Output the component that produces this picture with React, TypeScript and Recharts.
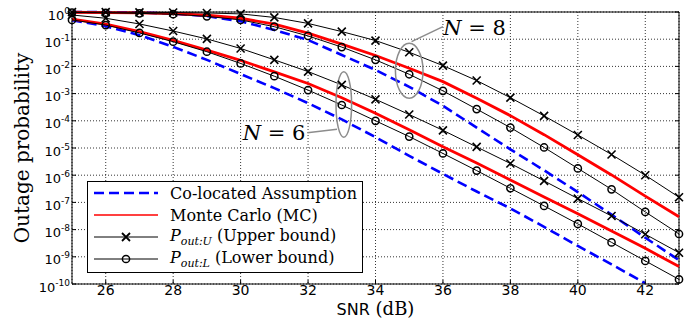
import {
    CartesianGrid,
    Label,
    Legend,
    Line,
    LineChart,
    ReferenceDot,
    ReferenceLine,
    XAxis,
    YAxis,
} from 'recharts';

// SNR in dB
const snr = [25, 26, 27, 28, 29, 30, 31, 32, 33, 34, 35, 36, 37, 38, 39, 40, 41, 42, 43];

// all series are log10(outage probability)
const n8Co = [0, -0.005, -0.02, -0.06, -0.15, -0.34, -0.66, -1.03, -1.58, -2.13, -2.75, -3.45, -4.25, -5.05, -5.82, -6.62, -7.45, -8.3, -9.12];
const n8MC = [-0.01, -0.02, -0.035, -0.06, -0.12, -0.23, -0.45, -0.78, -1.18, -1.6, -2.07, -2.56, -3.17, -3.81, -4.51, -5.25, -5.99, -6.77, -7.53];
const n8Upper = [-0.003, -0.006, -0.012, -0.02, -0.035, -0.07, -0.2, -0.42, -0.72, -1.05, -1.48, -1.97, -2.52, -3.15, -3.82, -4.52, -5.24, -6.0, -6.81];
const n8Lower = [-0.02, -0.03, -0.05, -0.08, -0.16, -0.29, -0.54, -0.88, -1.29, -1.76, -2.29, -2.9, -3.57, -4.25, -4.98, -5.75, -6.52, -7.35, -8.16];

const n6Co = [-0.3, -0.52, -0.85, -1.28, -1.76, -2.28, -2.8, -3.35, -3.95, -4.6, -5.29, -5.95, -6.6, -7.22, -7.9, -8.6, -9.28, -9.97, null];
const n6MC = [-0.26, -0.45, -0.72, -1.04, -1.4, -1.78, -2.2, -2.63, -3.15, -3.72, -4.33, -4.95, -5.55, -6.18, -6.8, -7.42, -8.05, -8.69, -9.36];
const n6Upper = [-0.11, -0.23, -0.44, -0.7, -0.99, -1.34, -1.76, -2.19, -2.68, -3.21, -3.77, -4.35, -4.96, -5.57, -6.21, -6.86, -7.5, -8.17, -8.85];
const n6Lower = [-0.29, -0.48, -0.77, -1.09, -1.46, -1.89, -2.36, -2.87, -3.42, -4.0, -4.58, -5.2, -5.83, -6.48, -7.13, -7.79, -8.47, -9.15, -9.83];

const xTicks = [26, 28, 30, 32, 34, 36, 38, 40, 42];
const yTicks = [-10, -9, -8, -7, -6, -5, -4, -3, -2, -1, 0];

const data = snr.map((s, i) => ({
    snr: s,
    n8Co: n8Co[i],
    n8MC: n8MC[i],
    n8Upper: n8Upper[i],
    n8Lower: n8Lower[i],
    n6Co: n6Co[i],
    n6MC: n6MC[i],
    n6Upper: n6Upper[i],
    n6Lower: n6Lower[i],
}));

const BLUE = '#0000ff';
const RED = '#ff0000';
const GREY = '#8c8c8c';
const SERIF = '"DejaVu Serif", serif';
const SANS = '"DejaVu Sans", sans-serif';

function CrossDot(props: any) {
    const { cx, cy, key } = props;
    if (cx == null || cy == null) return <g key={key} />;
    const s = 4;
    return (
        <path
            key={key}
            d={`M${cx - s},${cy - s}L${cx + s},${cy + s}M${cx - s},${cy + s}L${cx + s},${cy - s}`}
            stroke="#000"
            strokeWidth={1.6}
        />
    );
}

function CircleDot(props: any) {
    const { cx, cy, key } = props;
    if (cx == null || cy == null) return <g key={key} />;
    return <circle key={key} cx={cx} cy={cy} r={3.6} fill="none" stroke="#000" strokeWidth={1.5} />;
}

function YTick({ x, y, payload }: any) {
    return (
        <g>
            <line x1={x + 2} y1={y} x2={x + 6} y2={y} stroke="#000" strokeWidth={1} />
            <text x={x} y={y + 7.5} textAnchor="end" fontFamily={SANS} fontSize={13} fill="#000">
                10
                <tspan dy={-6} fontSize={9}>
                    {payload.value}
                </tspan>
            </text>
        </g>
    );
}

function XTick({ x, y, payload }: any) {
    return (
        <g>
            <line x1={x} y1={y} x2={x} y2={y - 4} stroke="#000" strokeWidth={1} />
            <text x={x} y={y + 11} textAnchor="middle" fontFamily={SANS} fontSize={14} fill="#000">
                {payload.value}
            </text>
        </g>
    );
}

function YTitle({ viewBox }: any) {
    const cx = viewBox.x + 22;
    const cy = viewBox.y + viewBox.height / 2;
    return (
        <text
            transform={`translate(${cx},${cy}) rotate(-90)`}
            textAnchor="middle"
            dominantBaseline="central"
            fontFamily={SERIF}
            fontSize={20}
            fill="#000"
        >
            Outage probability
        </text>
    );
}

function XTitle({ viewBox }: any) {
    const cx = viewBox.x + viewBox.width / 2;
    return (
        <text x={cx} y={viewBox.y + 31} textAnchor="middle" fill="#000">
            <tspan fontFamily={SANS} fontSize={16}>SNR</tspan>
            <tspan fontFamily={SERIF} fontSize={18}> (dB)</tspan>
        </text>
    );
}

function groupLabel(n: number) {
    return (p: any) => (
        <text x={p.cx} y={p.cy} fontFamily={SERIF} fontSize={21} fill="#000">
            <tspan fontStyle="italic">N</tspan> = {n}
        </text>
    );
}

function ellipse(rx: number, ry: number) {
    return (p: any) => (
        <ellipse cx={p.cx} cy={p.cy} rx={rx} ry={ry} fill="none" stroke={GREY} strokeWidth={1.5} />
    );
}

function rightTick(p: any) {
    return <line x1={p.cx} y1={p.cy} x2={p.cx - 4} y2={p.cy} stroke="#000" strokeWidth={1} />;
}

function LegendBox() {
    const row = { display: 'flex', alignItems: 'center', height: 22 } as const;
    const text = { fontFamily: SERIF, fontSize: 16, color: '#000', whiteSpace: 'nowrap' } as const;
    const sample = (kind: string) => (
        <svg width={64} height={12} style={{ marginRight: 12, flex: 'none' }}>
            {kind === 'co' && <line x1={0} y1={6} x2={64} y2={6} stroke={BLUE} strokeWidth={2.5} strokeDasharray="10 5" />}
            {kind === 'mc' && <line x1={0} y1={6} x2={64} y2={6} stroke={RED} strokeWidth={1.5} />}
            {kind !== 'co' && kind !== 'mc' && <line x1={0} y1={6} x2={64} y2={6} stroke="#000" strokeWidth={1} />}
            {kind === 'up' && <path d="M28,2L36,10M28,10L36,2" stroke="#000" strokeWidth={1.8} />}
            {kind === 'lo' && <circle cx={32} cy={6} r={3.6} fill="none" stroke="#000" strokeWidth={1.5} />}
        </svg>
    );
    return (
        <div
            style={{
                width: 276,
                height: 92,
                boxSizing: 'border-box',
                border: '1.5px solid #000',
                background: '#fff',
                padding: '0 0 0 6px',
            }}
        >
            <div style={row}>
                {sample('co')}
                <span style={text}>Co-located Assumption</span>
            </div>
            <div style={row}>
                {sample('mc')}
                <span style={text}>Monte Carlo (MC)</span>
            </div>
            <div style={row}>
                {sample('up')}
                <span style={text}>
                    <i>P</i>
                    <sub style={{ fontSize: 11 }}>
                        <i>out:U</i>
                    </sub>{' '}
                    (Upper bound)
                </span>
            </div>
            <div style={row}>
                {sample('lo')}
                <span style={text}>
                    <i>P</i>
                    <sub style={{ fontSize: 11 }}>
                        <i>out:L</i>
                    </sub>{' '}
                    (Lower bound)
                </span>
            </div>
        </div>
    );
}

export default function App() {
    return (
        <div style={{ position: 'absolute', left: 0, top: 0, background: '#fff' }}>
            <LineChart width={699} height={327} data={data} margin={{ top: 12, right: 20, bottom: 0, left: 0 }}>
                <CartesianGrid stroke="#000" strokeDasharray="1 2" strokeWidth={0.8} />
                <XAxis
                    dataKey="snr"
                    type="number"
                    domain={[25, 43]}
                    ticks={xTicks}
                    height={43}
                    tickSize={0}
                    tickMargin={0}
                    tick={XTick}
                    axisLine={{ stroke: '#000', strokeWidth: 1 }}
                >
                    <Label content={XTitle} />
                </XAxis>
                <YAxis
                    type="number"
                    domain={[-10, 0]}
                    ticks={yTicks}
                    width={72}
                    tickSize={0}
                    tickMargin={2}
                    tick={YTick}
                    axisLine={{ stroke: '#000', strokeWidth: 1 }}
                >
                    <Label content={YTitle} />
                </YAxis>
                <ReferenceLine y={0} stroke="#000" strokeWidth={1} />
                <ReferenceLine x={43} stroke="#000" strokeWidth={1} />
                {yTicks.map((t) => (
                    <ReferenceDot key={t} x={43} y={t} r={0} shape={rightTick} />
                ))}

                <Line dataKey="n8Co" stroke={BLUE} strokeWidth={2.6} strokeDasharray="10 5" dot={false} isAnimationActive={false} />
                <Line dataKey="n6Co" stroke={BLUE} strokeWidth={2.6} strokeDasharray="10 5" dot={false} isAnimationActive={false} />
                <Line dataKey="n8MC" stroke={RED} strokeWidth={2.8} dot={false} isAnimationActive={false} />
                <Line dataKey="n6MC" stroke={RED} strokeWidth={2.8} dot={false} isAnimationActive={false} />
                <Line dataKey="n8Upper" stroke="#000" strokeWidth={1} dot={CrossDot} isAnimationActive={false} />
                <Line dataKey="n6Upper" stroke="#000" strokeWidth={1} dot={CrossDot} isAnimationActive={false} />
                <Line dataKey="n8Lower" stroke="#000" strokeWidth={1} dot={CircleDot} isAnimationActive={false} />
                <Line dataKey="n6Lower" stroke="#000" strokeWidth={1} dot={CircleDot} isAnimationActive={false} />

                <ReferenceDot x={35} y={-2.16} r={0} shape={ellipse(13.8, 27.5)} />
                <ReferenceLine segment={[{ x: 35.07, y: -1.09 }, { x: 36.0, y: -0.54 }]} stroke={GREY} strokeWidth={1.5} />
                <ReferenceDot x={36.01} y={-0.85} r={0} shape={groupLabel(8)} />

                <ReferenceDot x={33.06} y={-3.4} r={0} shape={ellipse(7.8, 32.8)} />
                <ReferenceLine segment={[{ x: 31.98, y: -4.44 }, { x: 32.86, y: -4.31 }]} stroke={GREY} strokeWidth={1.5} />
                <ReferenceDot x={30.06} y={-4.71} r={0} shape={groupLabel(6)} />

                <Legend
                    layout="vertical"
                    align="center"
                    verticalAlign="middle"
                    content={LegendBox}
                    wrapperStyle={{ left: 87, top: 181, width: 276, height: 92 }}
                />
            </LineChart>
        </div>
    );
}
